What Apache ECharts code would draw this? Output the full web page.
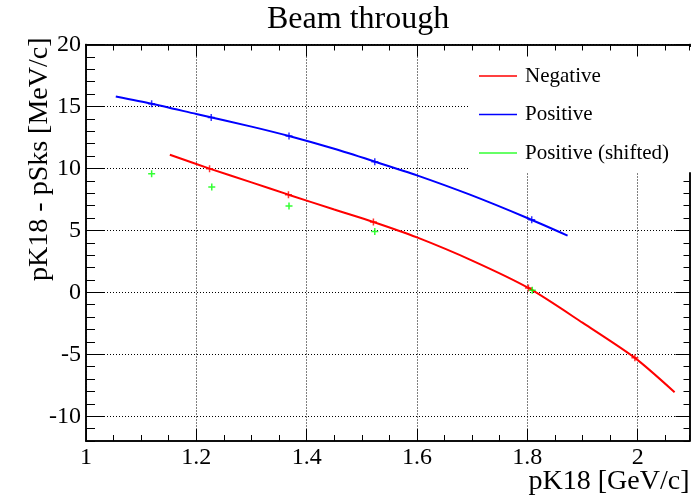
<!DOCTYPE html>
<html>
<head>
<meta charset="utf-8">
<script src="https://cdn.jsdelivr.net/npm/echarts@6/dist/echarts.min.js"></script>
<style>
  html, body { margin: 0; padding: 0; background: #fff; }
  #chart { width: 693px; height: 498px; }
</style>
</head>
<body>
<div id="chart"></div>
<script>
// Fitted curves (pK18 in GeV/c, difference in MeV/c)
const negCurveX = [1.152, 1.224, 1.3, 1.367, 1.45, 1.521, 1.6, 1.7, 1.802, 1.9, 1.995, 2.067];
const negCurveY = [11.10, 9.98, 8.87, 7.88, 6.68, 5.68, 4.43, 2.56, 0.35, -2.45, -5.29, -8.06];
const posCurveX = [1.054, 1.119, 1.2, 1.3, 1.368, 1.45, 1.524, 1.6, 1.696, 1.8, 1.873];
const posCurveY = [15.80, 15.22, 14.39, 13.37, 12.61, 11.58, 10.54, 9.44, 7.88, 6.00, 4.58];

// Measured points
const negPtsX = [1.224, 1.367, 1.521, 1.802, 1.995];
const negPtsY = [9.98, 7.88, 5.68, 0.35, -5.29];
const posPtsX = [1.119, 1.227, 1.368, 1.5235, 1.808];
const posPtsY = [15.22, 14.11, 12.61, 10.54, 5.86];
const shiftPtsX = [1.119, 1.228, 1.368, 1.5235, 1.809];
const shiftPtsY = [9.57, 8.50, 6.97, 4.90, 0.16];

// Axis tick values
const xTickValues = [1, 1.2, 1.4, 1.6, 1.8, 2];
const yTickValues = [-10, -5, 0, 5, 10, 15, 20];

const seriesNames = ['Negative', 'Positive', 'Positive (shifted)'];
const seriesColors = ['#ff0000', '#0000ff', '#00ff00'];

const xMin = 1, xMax = 2.094, xMinor = 0.05;
const yMin = -12, yMax = 20, yMinor = 1;

const pairs = (xs, ys) => xs.map((x, i) => [x, ys[i]]);
const FONT = '"Liberation Serif", "Times New Roman", serif';
const plus = 'path://M5.5,0h3v5.5h5.5v3h-5.5v5.5h-3v-5.5h-5.5v-3h5.5z';

function axisDef(dim, pos, ticks, tickLen, withLabels, extra) {
  const isX = dim === 'x';
  const base = {
    type: 'value', position: pos,
    min: isX ? xMin : yMin, max: isX ? xMax : yMax,
    axisLine: { show: true, onZero: false, lineStyle: { color: '#000', width: 1.5 } },
    axisTick: { show: true, inside: true, length: tickLen, lineStyle: { color: '#000', width: 1 } },
    axisLabel: { show: false },
    splitLine: { show: false }
  };
  if (Array.isArray(ticks)) {
    base.axisTick.customValues = ticks;
    if (withLabels) {
      base.axisLabel = {
        show: true, margin: 5, customValues: ticks,
        fontFamily: FONT, fontSize: 24, color: '#000'
      };
    }
  } else {
    base.interval = ticks;
  }
  return Object.assign(base, extra || {});
}

const dotted = { show: true, lineStyle: { color: '#000', width: 1, type: [1, 2] } };

const option = {
  animation: false,
  backgroundColor: '#fff',
  title: {
    text: 'Beam through', left: 267, top: 4, padding: 0,
    textStyle: { fontFamily: FONT, fontSize: 32, fontWeight: 'normal', color: '#000' }
  },
  legend: {
    orient: 'vertical', left: 469, top: 47,
    padding: [9.75, 24, 0, 10],
    backgroundColor: '#fff',
    itemWidth: 38, itemHeight: 1.5, itemGap: 0,
    icon: 'rect',
    selectedMode: false,
    textStyle: { fontFamily: FONT, fontSize: 21, color: '#000', lineHeight: 38.5, padding: [0, 0, 0, 3] },
    data: seriesNames.map((n, i) => ({ name: n, itemStyle: { color: seriesColors[i] } }))
  },
  grid: { left: 86, top: 44.5, width: 603.5, height: 396.5, containLabel: false, outerBoundsMode: 'none' },
  xAxis: [
    axisDef('x', 'bottom', xTickValues, 12, true, {
      splitLine: dotted,
      name: 'pK18 [GeV/c]', nameLocation: 'end', nameGap: 0, nameMoveOverlap: false,
      nameTextStyle: { fontFamily: FONT, fontSize: 28, color: '#000', align: 'right', verticalAlign: 'top', padding: [27, 0, 0, 0] }
    }),
    axisDef('x', 'bottom', xMinor, 6, false),
    axisDef('x', 'top', xTickValues, 12, false, { z: 10 }),
    axisDef('x', 'top', xMinor, 6, false, { z: 10 })
  ],
  yAxis: [
    axisDef('y', 'left', yTickValues, 18, true, {
      splitLine: dotted,
      name: 'pK18 - pSks [MeV/c]', nameLocation: 'end', nameGap: 7, nameRotate: 90, nameMoveOverlap: false,
      nameTextStyle: { fontFamily: FONT, fontSize: 28, color: '#000', align: 'right', verticalAlign: 'bottom', padding: [0, 0, 32, 0] }
    }),
    axisDef('y', 'left', yMinor, 9, false),
    axisDef('y', 'right', yTickValues, 14, false),
    axisDef('y', 'right', yMinor, 6, false)
  ],
  series: [
    {
      name: seriesNames[0], type: 'line', data: pairs(negCurveX, negCurveY),
      smooth: 0.25, showSymbol: false, color: seriesColors[0],
      lineStyle: { width: 2, color: seriesColors[0] }, z: 3
    },
    {
      name: seriesNames[1], type: 'line', data: pairs(posCurveX, posCurveY),
      smooth: 0.25, showSymbol: false, color: seriesColors[1],
      lineStyle: { width: 2, color: seriesColors[1] }, z: 3
    },
    {
      name: seriesNames[0], type: 'scatter', data: pairs(negPtsX, negPtsY),
      symbol: plus, symbolSize: 7, itemStyle: { color: seriesColors[0] }, z: 4
    },
    {
      name: seriesNames[1], type: 'scatter', data: pairs(posPtsX, posPtsY),
      symbol: plus, symbolSize: 7, itemStyle: { color: seriesColors[1] }, z: 4
    },
    {
      name: seriesNames[2], type: 'scatter', data: pairs(shiftPtsX, shiftPtsY),
      symbol: plus, symbolSize: 7, itemStyle: { color: seriesColors[2] }, z: 4
    }
  ]
};

const chart = echarts.init(document.getElementById('chart'), null, { renderer: 'canvas' });
chart.setOption(option);
</script>
</body>
</html>
